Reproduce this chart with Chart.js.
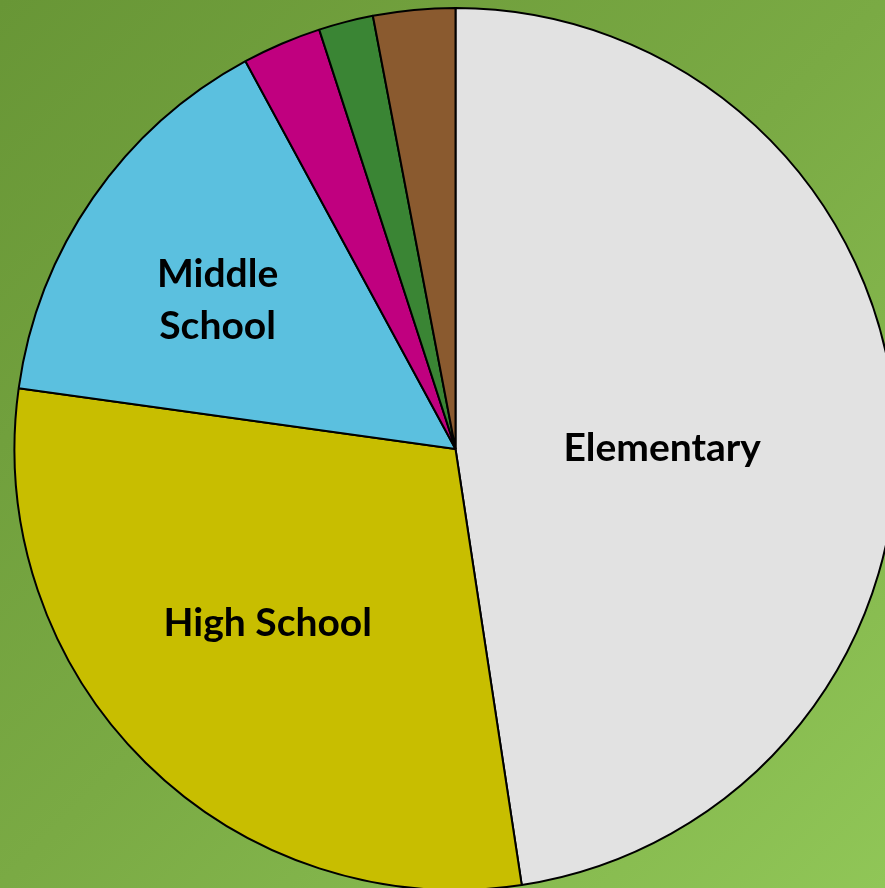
<!DOCTYPE html>
<html>
<head>
<meta charset="utf-8">
<title>Students by school level</title>
<script src="https://cdn.jsdelivr.net/npm/chart.js@4/dist/chart.umd.min.js"></script>
<style>
  html, body { margin: 0; padding: 0; overflow: hidden; }
  body {
    width: 885px; height: 888px;
    background: linear-gradient(to bottom right, #689636, #7aaa44 50%, #90c657);
  }
  canvas { display: block; }
</style>
</head>
<body>
<canvas id="myChart" width="885" height="888"></canvas>
<script>
const levels = ['Elementary', 'High School', 'Middle School', 'Pre-K', 'Alternative', 'Other'];
const shares = [47.6, 29.6, 14.9, 2.9, 2.0, 3.0];
const colors = ['#e2e2e2', '#c8be00', '#5bc0df', '#c0007f', '#3a8534', '#8a5a2f'];

// labels shown inside the large slices: text lines, distance along the radius, nudge
const sliceLabels = [
    { lines: ['Elementary'], frac: 0.47, dx: 0, dy: 15 },
    { lines: ['High School'], frac: 0.58, dx: -8, dy: -8 },
    { lines: ['Middle', 'School'], frac: 0.64, dx: -6, dy: 12 },
];

const labelPlugin = {
    id: 'sliceLabels',
    afterDatasetsDraw(chart) {
        const ctx = chart.ctx;
        const arcs = chart.getDatasetMeta(0).data;
        ctx.save();
        ctx.fillStyle = '#000';
        ctx.font = 'bold 39px Lato';
        ctx.textAlign = 'center';
        ctx.textBaseline = 'middle';
        sliceLabels.forEach((lab, i) => {
            const p = arcs[i].getProps(['x', 'y', 'startAngle', 'endAngle', 'outerRadius'], true);
            const mid = (p.startAngle + p.endAngle) / 2;
            const r = p.outerRadius * lab.frac;
            const cx = p.x + Math.cos(mid) * r + lab.dx;
            const cy = p.y + Math.sin(mid) * r + lab.dy;
            const lh = 52;
            lab.lines.forEach((t, j) => {
                ctx.fillText(t, cx, cy + (j - (lab.lines.length - 1) / 2) * lh);
            });
        });
        ctx.restore();
    }
};

const ctx = document.getElementById('myChart').getContext('2d');
const myChart = new Chart(ctx, {
    type: 'pie',
    data: {
        labels: levels,
        datasets: [{
            data: shares,
            backgroundColor: colors,
            borderColor: '#000',
            borderWidth: 2,
            clip: false
        }]
    },
    options: {
        responsive: false,
        animation: false,
        devicePixelRatio: 1,
        radius: 441,
        layout: { padding: { left: 26, top: 10 } },
        plugins: {
            legend: { display: false },
            tooltip: { enabled: false }
        }
    },
    plugins: [labelPlugin]
});
</script>
</body>
</html>
